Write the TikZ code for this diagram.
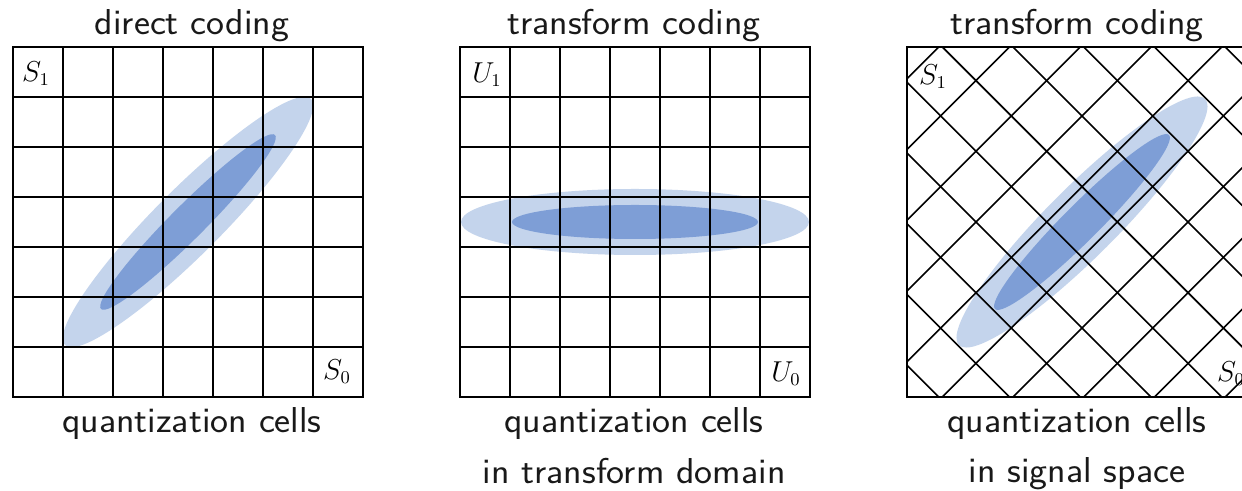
\documentclass[tikz,border=0pt]{standalone}
\usepackage{fontspec}
\setsansfont[FakeStretch=1.06]{Latin Modern Sans}
\definecolor{lightblue}{RGB}{196,212,236}
\definecolor{darkblue}{RGB}{126,158,214}
\definecolor{textgray}{RGB}{25,25,25}
\begin{document}
\begin{tikzpicture}[x=1pt,y=1pt,
  cellline/.style={line width=0.8pt, black},
  framebox/.style={line width=1.4pt, black},
  lightell/.style={fill=lightblue},
  darkell/.style={fill=darkblue},
  titletext/.style={font=\fontsize{18}{21}\selectfont\sffamily, anchor=base, inner sep=0pt, text=textgray},
  captext/.style={font=\fontsize{18}{21}\selectfont\sffamily, anchor=base, inner sep=0pt, text=textgray},
  axislab/.style={font=\fontsize{13.5}{15}\selectfont, inner sep=0pt}]
\useasboundingbox (0,0) rectangle (621,245.5);
\fill[white] (0,0) rectangle (621,245.5);

% ---------- panel 1: direct coding ----------
\fill[lightell, rotate around={45:(94,134.5)}] (94,134.5) ellipse [x radius=87, y radius=16.5];
\fill[darkell, rotate around={45:(94,134.5)}] (94,134.5) ellipse [x radius=61.5, y radius=8.5];
\foreach \i in {1,...,6} {
  \draw[cellline] (6.5+25*\i,47) -- (6.5+25*\i,222);
  \draw[cellline] (6.5,47+25*\i) -- (181.5,47+25*\i);
}
\draw[framebox] (6.5,47) rectangle (181.5,222);
\node[axislab] (p1s1) at (18,208.5) {$S_1$};
\node[axislab] (p1s0) at (168.5,59.5) {$S_0$};
\node[titletext] (t1) at (96,228) {direct coding};
\node[captext] (c1) at (96,29) {quantization cells};

% ---------- panel 2: transform domain ----------
\fill[lightell] (317.5,134.5) ellipse [x radius=87, y radius=16.5];
\fill[darkell] (317.5,134.5) ellipse [x radius=61.5, y radius=8.5];
\foreach \i in {1,...,6} {
  \draw[cellline] (230+25*\i,47) -- (230+25*\i,222);
  \draw[cellline] (230,47+25*\i) -- (405,47+25*\i);
}
\draw[framebox] (230,47) rectangle (405,222);
\node[axislab] (p2u1) at (243.5,208) {$U_1$};
\node[axislab] (p2u0) at (393,58.5) {$U_0$};
\node[titletext] (t2) at (317,228) {transform coding};
\node[captext] (c2a) at (317,29) {quantization cells};
\node[captext] (c2b) at (317,3.5) {in transform domain};

% ---------- panel 3: signal space ----------
\begin{scope}
  \clip (453.5,47) rectangle (628.5,222);
  \fill[lightell, rotate around={45:(541,134.5)}] (541,134.5) ellipse [x radius=87, y radius=17.5];
  \fill[darkell, rotate around={45:(541,134.5)}] (541,134.5) ellipse [x radius=61.5, y radius=9];
  \begin{scope}[shift={(541,134.5)}, rotate=45]
    \foreach \u in {-137.5,-112.5,...,137.5} {
      \draw[cellline] (\u,-135) -- (\u,135);
      \draw[cellline] (-135,\u) -- (135,\u);
    }
  \end{scope}
\end{scope}
\draw[framebox] (453.5,47) rectangle (628.5,222);
\node[axislab] (p3s1) at (466.5,207) {$S_1$};
\node[axislab] (p3s0) at (615.5,58.5) {$S_0$};
\node[titletext] (t3) at (538.5,228) {transform coding};
\node[captext] (c3a) at (538.5,29) {quantization cells};
\node[captext] (c3b) at (538.5,4) {in signal space};
\end{tikzpicture}
\end{document}
